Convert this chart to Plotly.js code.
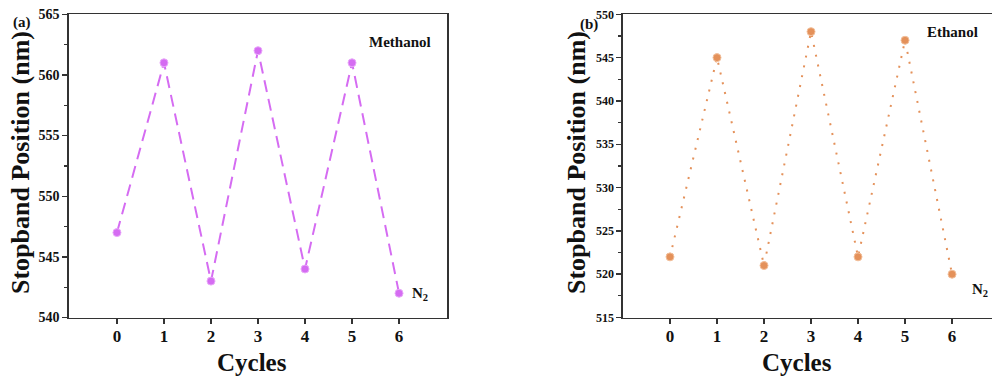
<!DOCTYPE html>
<html>
<head>
<meta charset="utf-8">
<script src="https://cdn.plot.ly/plotly-3.0.1.min.js"></script>
<style>html,body{margin:0;padding:0;background:#fff;}#chart{width:992px;height:378px;}</style>
</head>
<body>
<div id="chart"></div>
<script>
// Data
const cycles = [0, 1, 2, 3, 4, 5, 6];
const methanolStopband = [547, 561, 543, 562, 544, 561, 542];
const ethanolStopband = [522, 545, 521, 548, 522, 547, 520];
const xTickVals = [0, 1, 2, 3, 4, 5, 6];
const xTickText = ['0', '1', '2', '3', '4', '5', '6'];
const yTicksA = [540, 545, 550, 555, 560, 565];
const yTicksB = [515, 520, 525, 530, 535, 540, 545, 550];
const yTitle = 'Stopband Position (nm)';
const xTitle = 'Cycles';

const FONT = '"Liberation Serif", "Times New Roman", serif';
const W = 992, H = 378;
const yDom = [(H - 317.5) / H, (H - 14.3) / H];

const traces = [
  {
    x: cycles, y: methanolStopband, xaxis: 'x', yaxis: 'y',
    type: 'scatter', mode: 'lines+markers', name: 'Methanol',
    line: {color: '#d56cf2', width: 2, dash: '12px,7px'},
    marker: {color: '#d56cf2', size: 8, line: {color: '#e9a8fa', width: 1}},
    hoverinfo: 'x+y'
  },
  {
    x: cycles, y: ethanolStopband, xaxis: 'x2', yaxis: 'y2',
    type: 'scatter', mode: 'lines+markers', name: 'Ethanol',
    line: {color: '#e4915a', width: 2, dash: '2px,8px'},
    marker: {color: '#e4915a', size: 8, line: {color: '#f2c09c', width: 1}},
    hoverinfo: 'x+y'
  }
];

const axisCommon = {
  showline: true, linecolor: '#333', linewidth: 1.6, mirror: true,
  showgrid: false, zeroline: false, ticks: 'outside', ticklen: 5, tickwidth: 1.4, tickcolor: '#333'
};

function ann(text, x, y, size, extra) {
  return Object.assign({text: text, xref: 'paper', yref: 'paper', x: x / W, y: (H - y) / H, showarrow: false,
    font: {family: FONT, size: size, color: '#111'}, xanchor: 'center', yanchor: 'middle'}, extra || {});
}

const layout = {
  width: W, height: H,
  margin: {l: 0, r: 0, t: 0, b: 0},
  paper_bgcolor: '#fff', plot_bgcolor: '#fff',
  showlegend: false,
  font: {family: FONT, color: '#111'},
  xaxis: Object.assign({}, axisCommon, {
    domain: [69 / W, 447 / W], range: [-1.02, 7.02],
    tickvals: xTickVals, ticktext: xTickText,
    tickfont: {family: FONT, size: 17, color: '#111', weight: 'bold'},
    ticklabelstandoff: -3,
    anchor: 'y'
  }),
  yaxis: Object.assign({}, axisCommon, {
    domain: yDom, range: [540, 565],
    tickvals: yTicksA,
    tickfont: {family: FONT, size: 14, color: '#111', weight: 'bold'},
    minor: {dtick: 2.5, ticks: 'outside', ticklen: 3, tickwidth: 1.2, tickcolor: '#333', showgrid: false},
    anchor: 'x'
  }),
  xaxis2: Object.assign({}, axisCommon, {
    domain: [623 / W, 1], range: [-1.0, 6.85],
    tickvals: xTickVals, ticktext: xTickText,
    tickfont: {family: FONT, size: 17, color: '#111', weight: 'bold'},
    ticklabelstandoff: -3,
    anchor: 'y2'
  }),
  yaxis2: Object.assign({}, axisCommon, {
    domain: yDom, range: [515, 550], mirror: false,
    tickvals: yTicksB,
    tickfont: {family: FONT, size: 12, color: '#111', weight: 'bold'},
    minor: {dtick: 2.5, ticks: 'outside', ticklen: 3, tickwidth: 1.2, tickcolor: '#333', showgrid: false},
    anchor: 'x2'
  }),
  annotations: [
    ann('<b>' + yTitle + '</b>', 21, 163, 26, {textangle: -90}),
    ann('<b>' + yTitle + '</b>', 577, 163, 26, {textangle: -90}),
    ann('<b>' + xTitle + '</b>', 252, 362, 25),
    ann('<b>' + xTitle + '</b>', 797, 362, 25),
    ann('<b>(a)</b>', 22, 23, 15),
    ann('<b>(b)</b>', 589, 24, 15),
    ann('<b>Methanol</b>', 400, 42, 15),
    ann('<b>N<sub>2</sub></b>', 420, 294, 15),
    ann('<b>Ethanol</b>', 952, 32, 15),
    ann('<b>N<sub>2</sub></b>', 980, 290, 15)
  ]
};

Plotly.newPlot('chart', traces, layout, {staticPlot: true, displayModeBar: false});
</script>
</body>
</html>
